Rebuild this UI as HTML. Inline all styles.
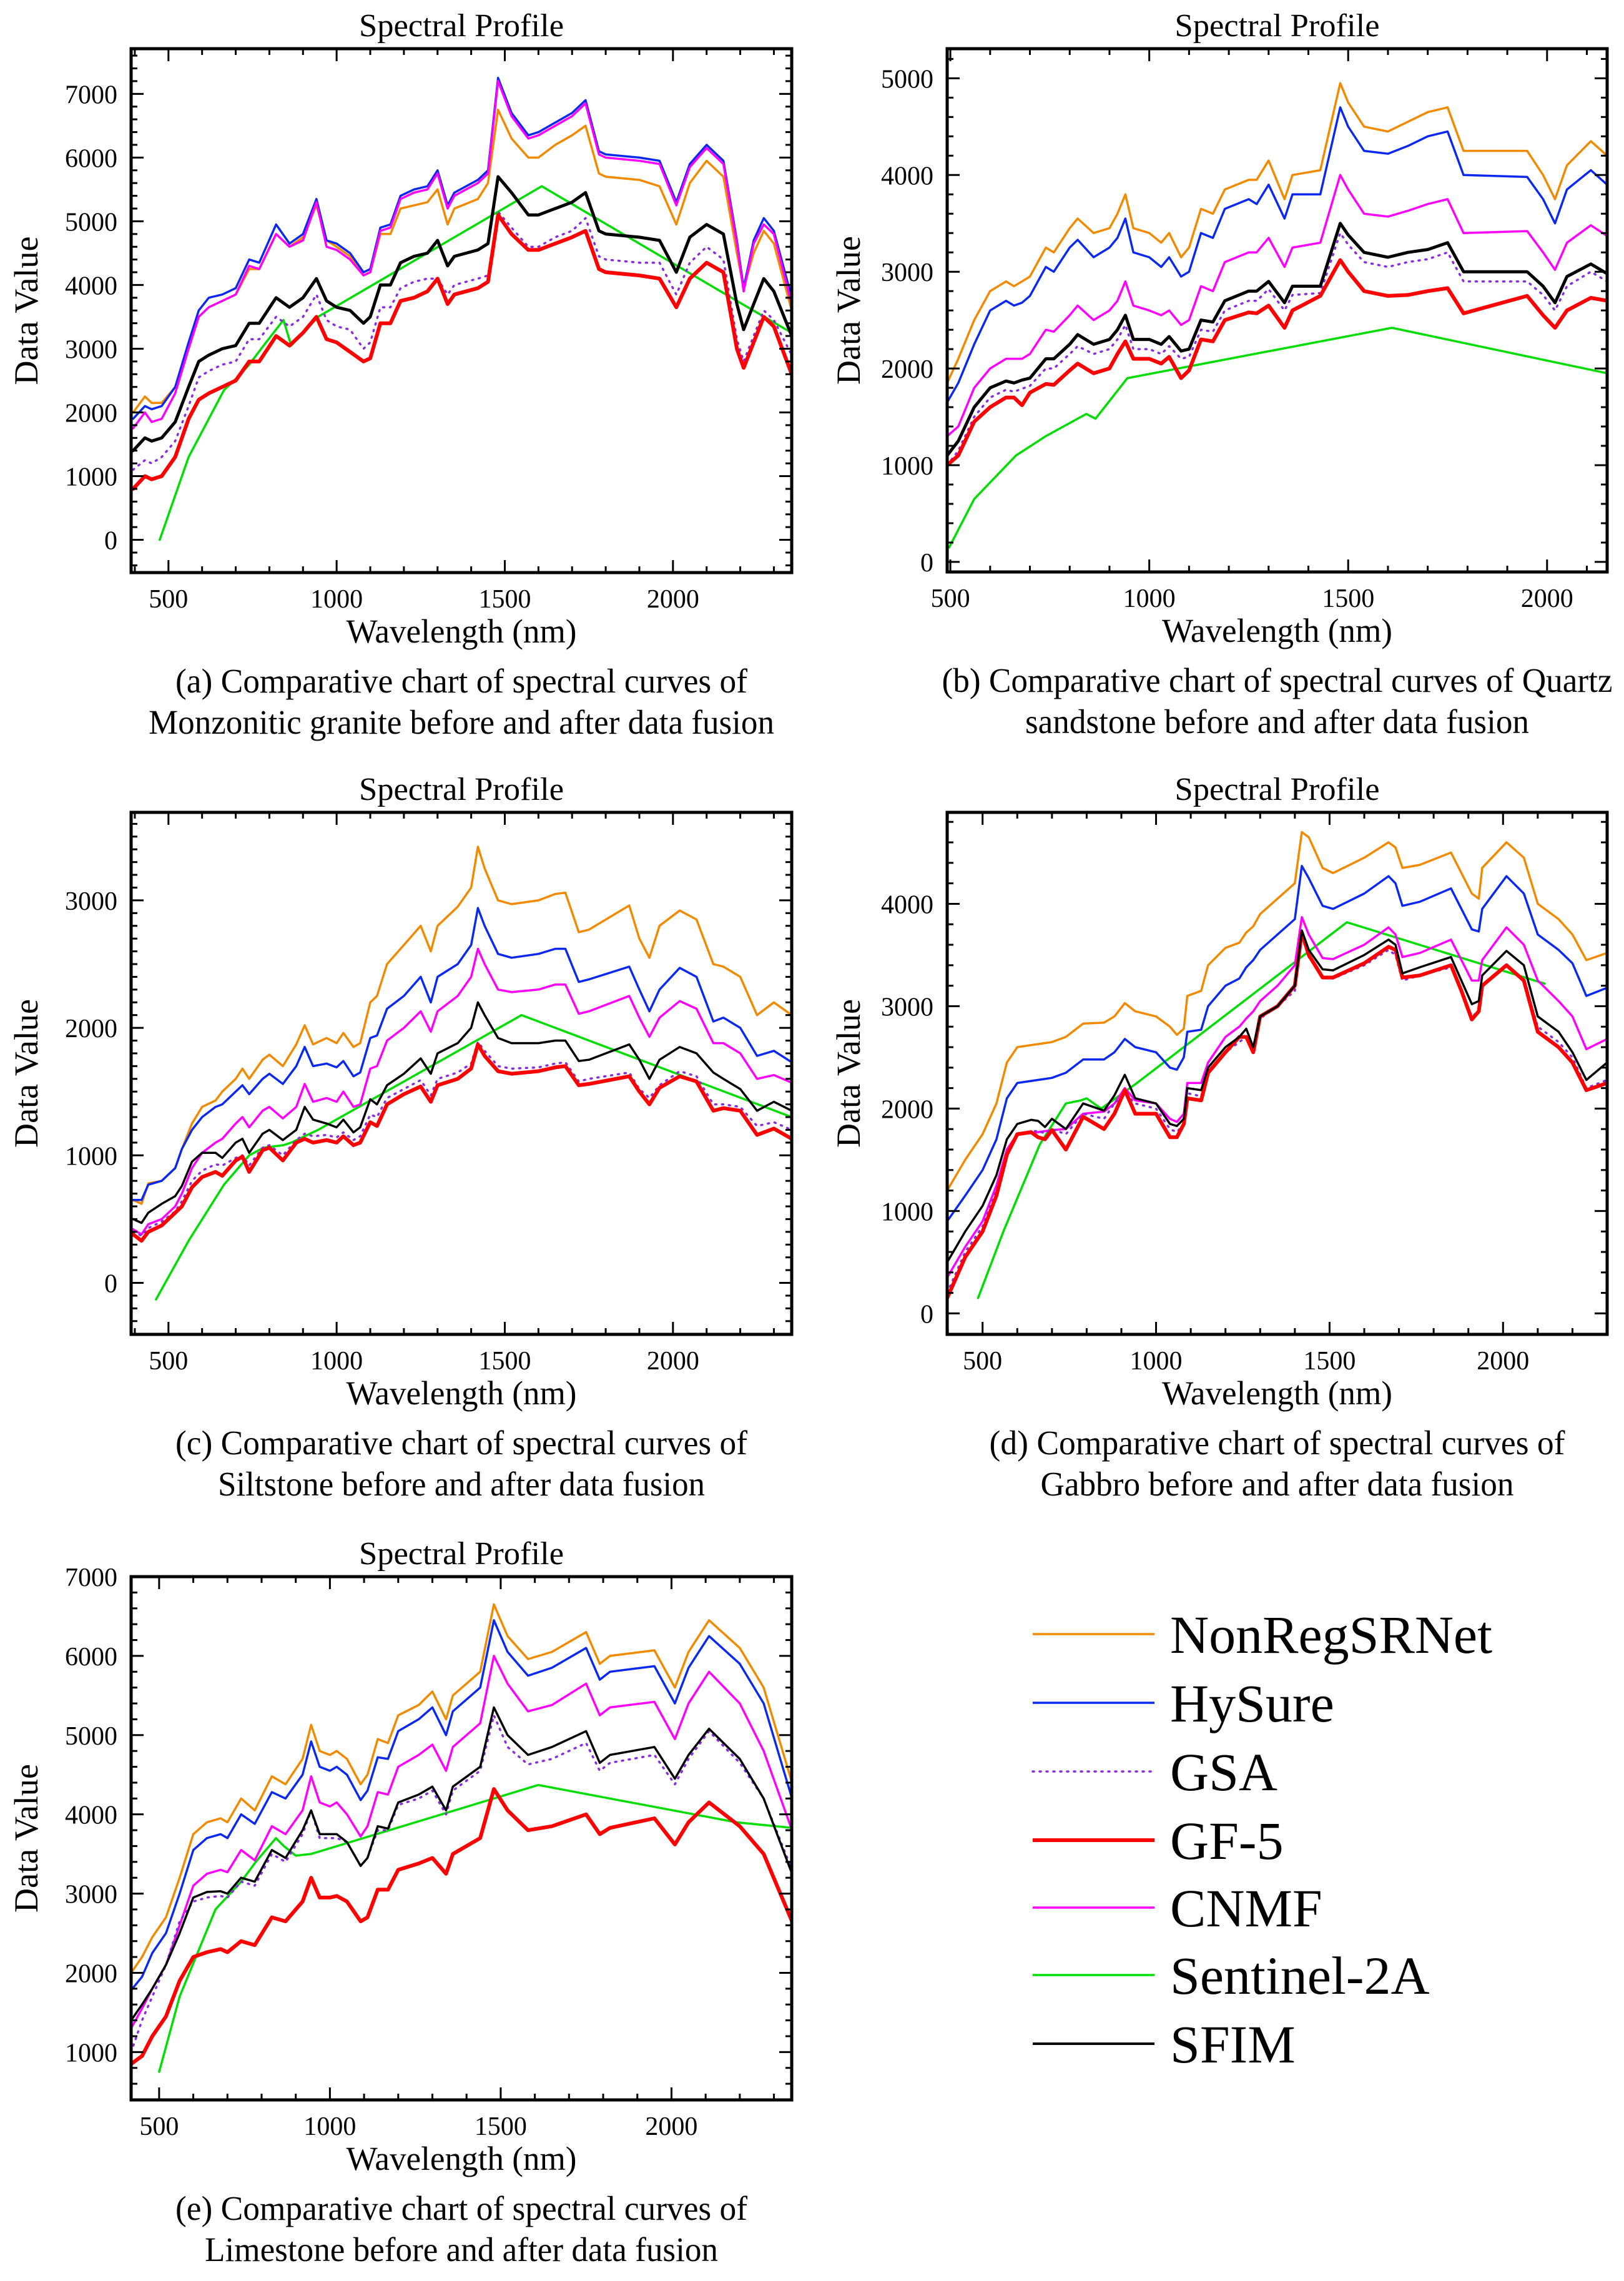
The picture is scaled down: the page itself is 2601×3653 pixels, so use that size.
<!DOCTYPE html>
<html><head><meta charset="utf-8"><style>
html,body{margin:0;padding:0;background:#fff}
svg{display:block}
svg text{font-family:"Liberation Serif","DejaVu Serif",serif;fill:#000}
</style></head><body>
<svg id="fig" xmlns="http://www.w3.org/2000/svg" width="2601" height="3653" viewBox="0 0 2601 3653" font-family="Liberation Serif, DejaVu Serif, serif">
<rect x="0" y="0" width="2601" height="3653" fill="#fff"/>
</svg>
<script>
// ---------- DATA ----------
// Panel (a) Monzonitic granite
const wlA=[395,430,450,480,520,560,590,620,660,700,740,770,820,860,900,940,970,1000,1040,1080,1100,1130,1160,1190,1230,1270,1300,1330,1350,1420,1450,1480,1520,1570,1600,1650,1700,1740,1780,1800,1900,1960,2010,2050,2100,2150,2190,2210,2240,2270,2300,2353];
const aNonReg=[2000,2250,2150,2150,2400,3000,3500,3650,3750,3850,4250,4250,4800,4600,4750,5250,4700,4600,4450,4150,4200,4800,4800,5200,5250,5300,5500,4950,5200,5350,5600,6750,6300,6000,6000,6200,6350,6500,5750,5700,5650,5550,4950,5600,5950,5700,4500,3950,4500,4850,4650,3600];
const aHySure=[1900,2100,2050,2100,2400,3100,3600,3800,3850,3950,4400,4350,4950,4650,4800,5350,4700,4650,4500,4200,4250,4900,4950,5400,5500,5550,5800,5250,5450,5650,5800,7250,6700,6350,6400,6550,6700,6900,6100,6050,6000,5950,5300,5900,6200,5950,4700,3950,4700,5050,4850,3800];
const aCNMF=[1750,2000,1850,1900,2300,3000,3500,3650,3750,3850,4300,4250,4800,4600,4700,5300,4600,4550,4400,4150,4200,4850,4900,5350,5450,5500,5750,5200,5400,5600,5750,7200,6650,6300,6350,6500,6650,6850,6050,6000,5950,5900,5250,5850,6150,5900,4650,3900,4650,4950,4800,3700];
const aSFIM=[1400,1600,1550,1600,1850,2400,2800,2900,3000,3050,3400,3400,3800,3650,3800,4100,3750,3650,3600,3400,3500,4000,4000,4350,4450,4500,4700,4300,4450,4550,4650,5700,5450,5100,5100,5200,5300,5450,4850,4800,4750,4700,4200,4750,4950,4800,3700,3300,3700,4100,3900,3200];
const aGSA=[1100,1250,1200,1300,1550,2100,2550,2650,2750,2800,3150,3150,3500,3350,3500,3850,3450,3350,3300,3000,3100,3650,3650,3950,4050,4100,4100,3850,4000,4100,4150,5150,4900,4600,4600,4750,4850,5050,4450,4400,4350,4350,3850,4350,4600,4400,3150,2800,3200,3600,3450,2900];
const aGF5=[800,1000,950,1000,1300,1900,2200,2300,2400,2500,2800,2800,3200,3050,3250,3500,3150,3100,2950,2800,2850,3400,3400,3750,3800,3900,4100,3700,3850,3950,4050,5100,4800,4550,4550,4650,4750,4850,4250,4200,4150,4100,3650,4100,4350,4200,3000,2700,3100,3500,3350,2600];
const wlSA=[474,560,665,705,740,783,842,865,945,1610,2190,2353];
const aSent=[0,1300,2350,2550,2750,3050,3450,3050,3500,5550,3750,3250];

// Panel (b) Quartz sandstone
const wlB=[492,520,560,600,640,660,680,700,740,760,800,820,860,900,920,940,960,1000,1030,1050,1080,1100,1130,1160,1190,1250,1270,1300,1340,1360,1430,1480,1500,1540,1600,1650,1700,1750,1790,1950,1990,2020,2050,2110,2151];
const bNonReg=[1850,2100,2500,2800,2900,2850,2900,2950,3250,3200,3450,3550,3400,3450,3600,3800,3450,3400,3300,3400,3150,3250,3650,3600,3850,3950,3950,4150,3750,4000,4050,4950,4750,4500,4450,4550,4650,4700,4250,4250,4000,3750,4100,4350,4200];
const bHySure=[1650,1850,2250,2600,2700,2650,2680,2750,3050,3000,3250,3330,3150,3250,3350,3550,3200,3150,3050,3150,2950,3000,3400,3350,3650,3750,3700,3900,3550,3800,3800,4700,4500,4250,4220,4300,4400,4450,4000,3980,3750,3500,3850,4050,3900];
const bCNMF=[1300,1400,1800,2000,2100,2100,2100,2150,2400,2380,2550,2650,2500,2600,2700,2900,2650,2600,2550,2600,2450,2500,2850,2800,3100,3200,3200,3350,3050,3250,3300,4000,3850,3600,3570,3630,3700,3750,3400,3420,3200,3020,3300,3480,3370];
const bSFIM=[1100,1250,1600,1800,1870,1850,1880,1900,2100,2100,2250,2350,2250,2300,2400,2550,2300,2300,2250,2330,2180,2200,2500,2480,2700,2800,2800,2900,2680,2850,2850,3500,3380,3200,3150,3200,3230,3300,3000,3000,2850,2680,2950,3080,2980];
const bGSA=[1000,1150,1500,1700,1780,1760,1790,1820,2000,2000,2150,2230,2150,2200,2300,2450,2200,2200,2150,2230,2100,2120,2400,2380,2600,2700,2700,2820,2600,2760,2780,3400,3280,3100,3050,3100,3130,3200,2900,2900,2760,2600,2850,3000,2900];
const bGF5=[1000,1100,1450,1600,1700,1700,1620,1750,1840,1830,1980,2050,1950,2000,2150,2280,2100,2100,2050,2120,1900,1980,2300,2280,2500,2580,2570,2650,2420,2600,2750,3120,3000,2800,2750,2760,2800,2830,2570,2750,2550,2420,2600,2730,2700];
const wlSB=[497,560,665,740,842,865,945,1610,2151];
const bSent=[150,650,1100,1300,1530,1480,1900,2420,1950];

// Panel (c) Siltstone
const wlC=[395,420,440,480,520,540,570,600,640,660,700,720,740,780,800,840,880,905,930,970,1000,1020,1050,1070,1100,1120,1150,1200,1250,1280,1300,1360,1400,1420,1440,1480,1520,1600,1650,1680,1720,1750,1870,1900,1930,1960,2020,2070,2120,2150,2200,2250,2300,2353];
const cNonReg=[650,620,780,800,900,1050,1250,1380,1430,1500,1600,1680,1600,1750,1790,1700,1870,2020,1870,1920,1880,1960,1850,1880,2200,2250,2500,2650,2800,2600,2800,2950,3100,3420,3250,3000,2970,3000,3050,3060,2750,2770,2960,2700,2550,2800,2920,2850,2500,2480,2400,2100,2200,2100];
const cHySure=[650,650,770,800,900,1050,1200,1300,1380,1400,1500,1550,1480,1600,1640,1560,1700,1850,1700,1720,1690,1740,1620,1650,1920,1940,2150,2250,2400,2200,2400,2500,2650,2940,2800,2580,2550,2580,2620,2620,2360,2380,2480,2300,2130,2300,2470,2400,2050,2080,2000,1780,1820,1730];
const cCNMF=[420,380,460,500,600,700,900,1020,1100,1130,1250,1300,1220,1350,1380,1290,1380,1560,1420,1450,1420,1500,1380,1400,1680,1700,1900,2000,2130,1970,2130,2250,2400,2620,2500,2300,2280,2300,2340,2340,2110,2130,2250,2080,1930,2080,2210,2150,1880,1880,1800,1600,1630,1570];
const cSFIM=[500,470,550,620,680,760,950,1020,1020,980,1100,1130,1020,1170,1200,1120,1200,1380,1280,1250,1220,1280,1180,1220,1440,1400,1550,1640,1760,1640,1800,1880,2000,2200,2100,1920,1880,1880,1900,1900,1740,1750,1870,1750,1600,1750,1850,1800,1650,1600,1520,1350,1420,1350];
const cGSA=[400,370,430,480,560,640,800,880,930,920,980,1000,920,1060,1080,1000,1120,1170,1150,1160,1140,1180,1120,1150,1320,1300,1450,1520,1590,1470,1600,1650,1720,1890,1820,1700,1680,1690,1720,1730,1580,1600,1650,1520,1450,1550,1660,1620,1400,1400,1380,1230,1260,1200];
const cGF5=[380,330,400,450,550,600,750,830,870,840,960,990,870,1040,1060,960,1100,1130,1100,1120,1100,1150,1080,1100,1260,1230,1400,1480,1540,1420,1550,1600,1680,1870,1780,1660,1640,1660,1690,1700,1550,1560,1620,1500,1400,1530,1620,1580,1350,1370,1350,1160,1210,1130];
const wlSC=[463,560,665,740,783,842,865,945,1550,2353];
const cSent=[-130,330,770,1000,1060,1080,1100,1200,2100,1300];

// Panel (d) Gabbro
const wlD=[398,450,500,540,570,600,640,660,680,700,740,790,850,880,910,940,1000,1040,1060,1080,1090,1130,1150,1200,1240,1260,1280,1300,1350,1400,1420,1440,1480,1510,1600,1670,1690,1710,1760,1850,1880,1910,1930,1940,2010,2060,2100,2160,2200,2240,2300];
const dNonReg=[1200,1500,1750,2050,2450,2600,2620,2630,2640,2650,2700,2830,2840,2900,3030,2950,2900,2800,2720,2780,3100,3150,3400,3570,3620,3720,3780,3900,4050,4200,4700,4650,4350,4300,4450,4600,4550,4350,4380,4500,4300,4100,4050,4350,4600,4450,4000,3850,3700,3450,3520];
const dHySure=[900,1150,1400,1700,2100,2250,2270,2280,2290,2300,2350,2480,2480,2550,2680,2600,2550,2400,2380,2500,2750,2770,3000,3200,3270,3380,3450,3550,3700,3850,4370,4250,3980,3950,4100,4270,4200,3980,4020,4150,3950,3750,3730,3950,4270,4100,3700,3550,3420,3100,3180];
const dCNMF=[350,650,900,1250,1600,1750,1760,1770,1780,1790,1800,1950,1970,2050,2200,2080,2050,1900,1870,1950,2250,2250,2450,2700,2800,2880,2950,3050,3200,3400,3870,3700,3470,3460,3600,3770,3700,3480,3520,3650,3450,3250,3250,3450,3770,3600,3250,3050,2900,2580,2680];
const dSFIM=[500,800,1050,1350,1700,1850,1890,1880,1820,1900,1800,2050,1980,2130,2330,2100,2050,1850,1830,1900,2200,2180,2400,2600,2700,2780,2600,2900,3000,3200,3740,3550,3360,3350,3500,3650,3600,3320,3380,3480,3250,3020,3050,3300,3540,3400,2900,2750,2550,2280,2450];
const dGSA=[200,600,850,1200,1550,1750,1780,1780,1760,1800,1750,1950,1900,2050,2150,2050,2000,1800,1770,1850,2150,2120,2350,2550,2650,2700,2550,2880,3000,3150,3680,3480,3280,3270,3400,3550,3500,3250,3300,3380,3150,2900,2950,3200,3400,3250,2800,2650,2500,2200,2280];
const dGF5=[150,550,800,1150,1550,1750,1770,1720,1700,1790,1600,1920,1800,1950,2180,1950,1950,1720,1720,1850,2100,2080,2350,2550,2700,2700,2550,2900,3000,3200,3720,3500,3280,3280,3420,3580,3550,3280,3300,3400,3150,2870,2950,3200,3400,3250,2750,2600,2450,2180,2250];
const wlSD=[487,560,665,740,783,800,842,945,1550,2120];
const dSent=[150,800,1650,2050,2080,2100,2000,2250,3820,3220];

// Panel (e) Limestone
const wlE=[418,450,480,520,560,600,640,680,700,740,780,830,870,920,945,970,1000,1020,1050,1090,1110,1140,1170,1200,1260,1300,1340,1360,1440,1480,1520,1580,1650,1750,1790,1820,1950,2010,2050,2110,2200,2270,2353];
const eNonReg=[2000,2200,2450,2700,3200,3750,3900,3950,3900,4200,4050,4480,4380,4700,5130,4800,4750,4800,4700,4380,4500,4950,4900,5250,5380,5550,5200,5500,5800,6650,6250,5960,6050,6300,5900,6000,6070,5600,6050,6450,6100,5600,4400];
const eHySure=[1780,1950,2250,2500,3000,3550,3700,3750,3700,4000,3880,4280,4200,4500,4920,4600,4550,4600,4500,4180,4300,4720,4700,5050,5200,5350,5000,5300,5600,6450,6050,5750,5850,6100,5700,5800,5870,5400,5850,6250,5900,5400,4200];
const eCNMF=[1300,1550,1800,2100,2600,3100,3250,3300,3270,3550,3420,3850,3750,4050,4480,4150,4100,4150,4000,3720,3850,4280,4250,4600,4750,4880,4550,4850,5150,6000,5650,5300,5380,5650,5250,5350,5420,4950,5400,5800,5400,4800,3800];
const eSFIM=[1400,1600,1800,2100,2500,2950,3020,3030,3000,3200,3150,3550,3450,3800,4050,3750,3750,3750,3650,3350,3450,3850,3820,4150,4250,4350,4050,4350,4600,5350,5000,4750,4850,5050,4650,4750,4850,4450,4750,5080,4700,4200,3250];
const eGSA=[1000,1400,1700,2100,2650,2900,2950,2970,2950,3150,3100,3500,3400,3750,4050,3700,3700,3700,3650,3350,3450,3800,3800,4120,4200,4300,4000,4300,4550,5250,4850,4630,4700,4900,4550,4650,4750,4380,4700,5050,4650,4200,3300];
const eGF5=[850,950,1200,1450,1900,2200,2260,2300,2260,2400,2350,2700,2650,2900,3200,2950,2950,2970,2900,2650,2700,3050,3050,3300,3380,3450,3250,3500,3700,4320,4050,3800,3850,4000,3750,3830,3950,3620,3900,4150,3850,3500,2650];
const wlSE=[500,560,665,740,783,842,865,900,945,1610,2190,2353];
const eSent=[750,1700,2800,3150,3400,3700,3600,3480,3500,4370,3900,3830];

const seriesNames=["NonRegSRNet","HySure","GSA","GF-5","CNMF","Sentinel-2A","SFIM"];
const yTickA=[0,1000,2000,3000,4000,5000,6000,7000];
const yTickB=[0,1000,2000,3000,4000,5000];
const yTickC=[0,1000,2000,3000];
const yTickD=[0,1000,2000,3000,4000];
const yTickE=[1000,2000,3000,4000,5000,6000,7000];
const xTicks=[500,1000,1500,2000];

// ---------- STYLE / LAYOUT ----------
const NS="http://www.w3.org/2000/svg";
const svg=document.getElementById('fig');
const FONT="Liberation Serif, DejaVu Serif, serif";
const COL={NonRegSRNet:"#f28a00",HySure:"#0a28f0",GSA:"#8a2be2",GF5:"#ff0000",CNMF:"#ff00ff",Sentinel:"#00dd00",SFIM:"#000000"};
function mk(tag,attrs,parent){const e=document.createElementNS(NS,tag);for(const k in attrs)e.setAttribute(k,attrs[k]);if(tag==='text')e.setAttribute('font-family',FONT);(parent||svg).appendChild(e);return e;}

const panels=[
 {id:"a",x0:210,x1:1268,y0:78,y1:917,xd:[389,2353],yd:[-514,7709],yt:yTickA,ymin:200,dvx:168,
  cap:["(a) Comparative chart of spectral curves of","Monzonitic granite before and after data fusion"],cw:[916,1002],
  wl:wlA,s:[aNonReg,aHySure,aGSA,aGF5,aCNMF,null,aSFIM],swl:wlSA,sent:aSent,blackW:5},
 {id:"b",x0:1517,x1:2574,y0:78,y1:916,xd:[492,2151],yd:[-104,5306],yt:yTickB,ymin:200,dvx:158,
  cap:["(b) Comparative chart of spectral curves of Quartz","sandstone before and after data fusion"],cw:[1074,807],
  wl:wlB,s:[bNonReg,bHySure,bGSA,bGF5,bCNMF,null,bSFIM],swl:wlSB,sent:bSent,blackW:5},
 {id:"c",x0:210,x1:1268,y0:1301,y1:2137,xd:[389,2353],yd:[-404,3690],yt:yTickC,ymin:100,dvx:168,
  cap:["(c) Comparative chart of spectral curves of","Siltstone before and after data fusion"],cw:[916,780],
  wl:wlC,s:[cNonReg,cHySure,cGSA,cGF5,cCNMF,null,cSFIM],swl:wlSC,sent:cSent,blackW:3.5},
 {id:"d",x0:1517,x1:2574,y0:1301,y1:2137,xd:[398,2300],yd:[-205,4893],yt:yTickD,ymin:200,dvx:158,
  cap:["(d) Comparative chart of spectral curves of","Gabbro before and after data fusion"],cw:[922,758],
  wl:wlD,s:[dNonReg,dHySure,dGSA,dGF5,dCNMF,null,dSFIM],swl:wlSD,sent:dSent,blackW:3.5},
 {id:"e",x0:210,x1:1268,y0:2525,y1:3363,xd:[418,2352],yd:[396,7000],yt:yTickE,ymin:200,dvx:168,
  cap:["(e) Comparative chart of spectral curves of","Limestone before and after data fusion"],cw:[916,822],
  wl:wlE,s:[eNonReg,eHySure,eGSA,eGF5,eCNMF,null,eSFIM],swl:wlSE,sent:eSent,blackW:3.5}
];

panels.forEach(p=>{
  const g=mk('g',{});
  
  
  const X=v=>p.x0+(v-p.xd[0])/(p.xd[1]-p.xd[0])*(p.x1-p.x0);
  const Y=v=>p.y1-(v-p.yd[0])/(p.yd[1]-p.yd[0])*(p.y1-p.y0);
  const cx=(p.x0+p.x1)/2, cy=(p.y0+p.y1)/2;
  const cid='clip'+p.id;
  const cp=mk('clipPath',{id:cid},g);
  mk('rect',{x:p.x0,y:p.y0,width:p.x1-p.x0,height:p.y1-p.y0},cp);
  const lg=mk('g',{'clip-path':'url(#'+cid+')'},g);
  
  
  const defs=[
    {k:5,c:COL.Sentinel,w:3.5},
    {k:0,c:COL.NonRegSRNet,w:3.5},
    {k:1,c:COL.HySure,w:3.5},
    {k:4,c:COL.CNMF,w:3.5},
    {k:2,c:COL.GSA,w:3.5,dash:"2 9"},
    {k:3,c:COL.GF5,w:6},
    {k:6,c:COL.SFIM,w:p.blackW}
  ];
  defs.forEach(d=>{
    const xs = d.k===5 ? p.swl : p.wl;
    const ys = d.k===5 ? p.sent : p.s[d.k];
    let dstr="";
    for(let i=0;i<xs.length;i++){dstr+=(i?"L":"M")+X(xs[i]).toFixed(1)+" "+Y(ys[i]).toFixed(1);}
    const path=mk('path',{d:dstr,fill:'none',stroke:d.c,'stroke-width':d.w,'stroke-linejoin':'round','stroke-linecap':'round'},lg);
    if(d.dash)path.setAttribute('stroke-dasharray',d.dash);
    
    
  });
  const tg=mk('g',{stroke:'#000','stroke-width':3},g);
  
  
  for(let v=Math.ceil(p.xd[0]/100)*100; v<=p.xd[1]; v+=100){
    const major=v%500===0, L=major?20:10, x=X(v);
    mk('line',{x1:x,y1:p.y1,x2:x,y2:p.y1-L},tg);
    mk('line',{x1:x,y1:p.y0,x2:x,y2:p.y0+L},tg);
  }
  for(let v=Math.ceil(p.yd[0]/p.ymin)*p.ymin; v<=p.yd[1]; v+=p.ymin){
    const major=v%1000===0, L=major?20:10, y=Y(v);
    mk('line',{x1:p.x0,y1:y,x2:p.x0+L,y2:y},tg);
    mk('line',{x1:p.x1,y1:y,x2:p.x1-L,y2:y},tg);
  }
  const fr=mk('rect',{x:p.x0,y:p.y0,width:p.x1-p.x0,height:p.y1-p.y0,fill:'none',stroke:'#000','stroke-width':5},g);
  
  
  xTicks.forEach(v=>{
    const t=mk('text',{x:X(v),y:p.y1+56,'text-anchor':'middle','font-size':42},g);
    t.textContent=v;
    
    
  });
  p.yt.forEach(v=>{
    const t=mk('text',{x:p.x0-22,y:Y(v)+15,'text-anchor':'end','font-size':42},g);
    t.textContent=v;
    
    
  });
  const ti=mk('text',{x:cx,y:p.y0-20,'text-anchor':'middle','font-size':52,textLength:328,lengthAdjust:'spacingAndGlyphs'},g);
  ti.textContent="Spectral Profile";
  
  
  const xl=mk('text',{x:cx,y:p.y1+112,'text-anchor':'middle','font-size':54,textLength:369,lengthAdjust:'spacingAndGlyphs'},g);
  xl.textContent="Wavelength (nm)";
  
  
  const yl=mk('text',{x:0,y:0,'text-anchor':'middle','font-size':54,textLength:238,lengthAdjust:'spacingAndGlyphs',transform:'translate('+(p.x0-p.dvx+18)+','+cy+') rotate(-90)'},g);
  yl.textContent="Data Value";
  
  
  p.cap.forEach((c,i)=>{
    const t=mk('text',{x:cx,y:p.y1+192+i*66,'text-anchor':'middle','font-size':55,textLength:p.cw[i],lengthAdjust:'spacingAndGlyphs'},g);
    t.textContent=c;
    
    
  });
});

// legend
const legY=[2617,2727,2837,2947,3055,3163,3273];
const legCol=[COL.NonRegSRNet,COL.HySure,COL.GSA,COL.GF5,COL.CNMF,COL.Sentinel,COL.SFIM];
const legW=[3.5,3.5,3.5,6,3.5,3.5,4];
const lgd=mk('g',{});


seriesNames.forEach((n,i)=>{
  const eg=mk('g',{},lgd);
  
  
  const ln=mk('line',{x1:1654,y1:legY[i],x2:1849,y2:legY[i],stroke:legCol[i],'stroke-width':legW[i]},eg);
  if(n==="GSA"){ln.setAttribute('stroke-dasharray','2 9');ln.setAttribute('stroke-linecap','round');}
  const t=mk('text',{x:1874,y:legY[i]+30,'font-size':86},eg);
  t.textContent=n;
});
</script>
</body></html>
